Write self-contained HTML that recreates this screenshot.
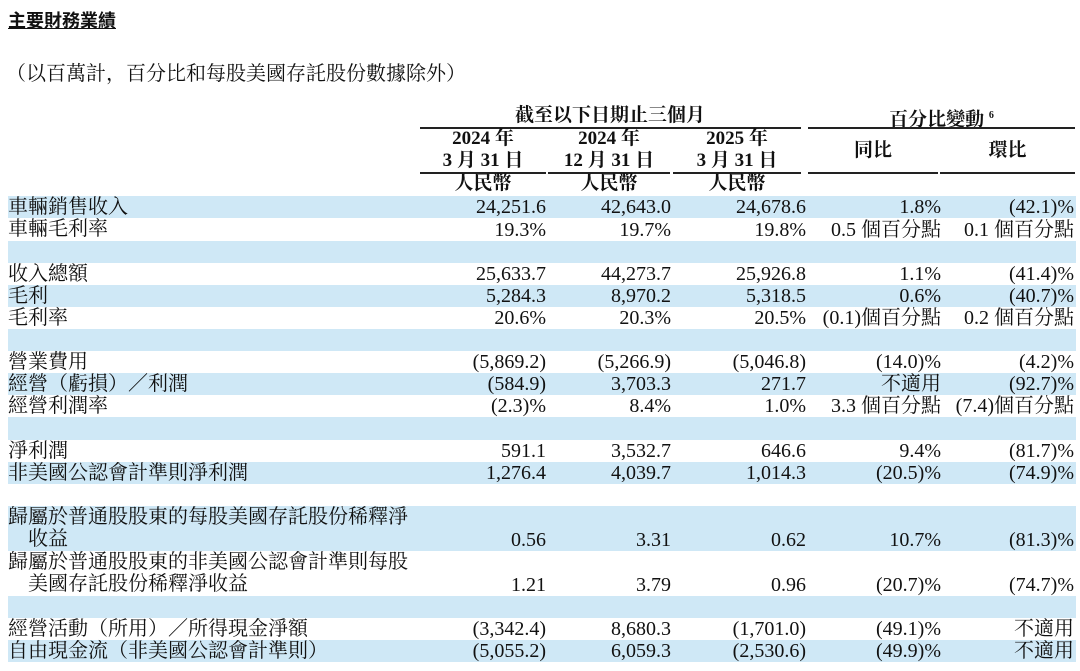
<!DOCTYPE html>
<html><head><meta charset="utf-8">
<style>
body{margin:0;width:1080px;height:671px;background:#fff;overflow:hidden;position:relative;font-family:"Liberation Serif","Noto Serif CJK SC",serif;color:#111;font-size:20px}
.a{position:absolute;white-space:nowrap}
.row{position:absolute;left:8px;width:1068px}
.blue{background:#cfe8f6}
.c{position:absolute;line-height:22px;text-align:right;white-space:nowrap}
.l{position:absolute;left:0;line-height:22px;white-space:nowrap}
.hl{position:absolute;height:1.5px;background:#222}
.h{position:absolute;text-align:center;font-weight:bold;line-height:22px;font-size:19px}
</style></head><body>
<div class="a" style="left:8px;top:7px;font-weight:bold;text-decoration:underline;font-family:'Noto Sans CJK SC',sans-serif;font-size:18px">主要財務業績</div>
<div class="a" style="left:6px;top:57px;font-size:20px">（以百萬計，百分比和每股美國存託股份數據除外）</div>

<div class="h" style="left:420px;width:380px;top:105px">截至以下日期止三個月</div>
<div class="h" style="left:808px;width:267px;top:105px">百分比變動 <sup style="font-size:10px">6</sup></div>
<div class="hl" style="left:420px;width:381px;top:127px"></div>
<div class="hl" style="left:808px;width:267px;top:127px"></div>
<div class="h" style="left:420px;width:126px;top:128px">2024 年<br>3 月 31 日</div>
<div class="h" style="left:548px;width:122px;top:128px">2024 年<br>12 月 31 日</div>
<div class="h" style="left:673px;width:128px;top:128px">2025 年<br>3 月 31 日</div>
<div class="h" style="left:808px;width:130px;top:140px">同比</div>
<div class="h" style="left:940px;width:135px;top:140px">環比</div>
<div class="hl" style="left:420px;width:126px;top:172px"></div>
<div class="hl" style="left:548px;width:122px;top:172px"></div>
<div class="hl" style="left:673px;width:128px;top:172px"></div>
<div class="hl" style="left:808px;width:130px;top:172px"></div>
<div class="hl" style="left:940px;width:135px;top:172px"></div>
<div class="h" style="left:420px;width:126px;top:173px">人民幣</div>
<div class="h" style="left:548px;width:122px;top:173px">人民幣</div>
<div class="h" style="left:673px;width:128px;top:173px">人民幣</div>

<div id="tbl"></div>
<script>
const rows=[
[196,22,1,["車輛銷售收入"],["24,251.6","42,643.0","24,678.6","1.8%","(42.1)%"]],
[218,23,0,["車輛毛利率"],["19.3%","19.7%","19.8%","0.5 個百分點","0.1 個百分點"]],
[241,22,1,[],[]],
[263,22,0,["收入總額"],["25,633.7","44,273.7","25,926.8","1.1%","(41.4)%"]],
[285,22,1,["毛利"],["5,284.3","8,970.2","5,318.5","0.6%","(40.7)%"]],
[307,22,0,["毛利率"],["20.6%","20.3%","20.5%","(0.1)個百分點","0.2 個百分點"]],
[329,22,1,[],[]],
[351,22,0,["營業費用"],["(5,869.2)","(5,266.9)","(5,046.8)","(14.0)%","(4.2)%"]],
[373,22,1,["經營（虧損）／利潤"],["(584.9)","3,703.3","271.7","不適用","(92.7)%"]],
[395,22,0,["經營利潤率"],["(2.3)%","8.4%","1.0%","3.3 個百分點","(7.4)個百分點"]],
[417,23,1,[],[]],
[440,22,0,["淨利潤"],["591.1","3,532.7","646.6","9.4%","(81.7)%"]],
[462,22,1,["非美國公認會計準則淨利潤"],["1,276.4","4,039.7","1,014.3","(20.5)%","(74.9)%"]],
[484,22,0,[],[]],
[506,45,1,["歸屬於普通股股東的每股美國存託股份稀釋淨","　收益"],["0.56","3.31","0.62","10.7%","(81.3)%"]],
[551,45,0,["歸屬於普通股股東的非美國公認會計準則每股","　美國存託股份稀釋淨收益"],["1.21","3.79","0.96","(20.7)%","(74.7)%"]],
[596,22,1,[],[]],
[618,22,0,["經營活動（所用）／所得現金淨額"],["(3,342.4)","8,680.3","(1,701.0)","(49.1)%","不適用"]],
[640,22,1,["自由現金流（非美國公認會計準則）"],["(5,055.2)","6,059.3","(2,530.6)","(49.9)%","不適用"]]
];
const colRight=[546,671,806,941,1074];
const t=document.getElementById('tbl');
rows.forEach((r,i)=>{
 const d=document.createElement('div');
 d.className='row'+(r[2]?' blue':'');
 d.style.top=r[0]+'px';d.style.height=r[1]+'px';
 
 
 r[3].forEach((txt,j)=>{const s=document.createElement('div');s.className='l';s.style.top=(j*22)+'px';s.textContent=txt;
 
 
 d.appendChild(s);});
 r[4].forEach((v,j)=>{const s=document.createElement('div');s.className='c';s.style.top=(r[1]-22)+'px';s.style.right=(1068+8-colRight[j])+'px';s.textContent=v;
 
 
 d.appendChild(s);});
 t.appendChild(d);
});
</script>
</body></html>
